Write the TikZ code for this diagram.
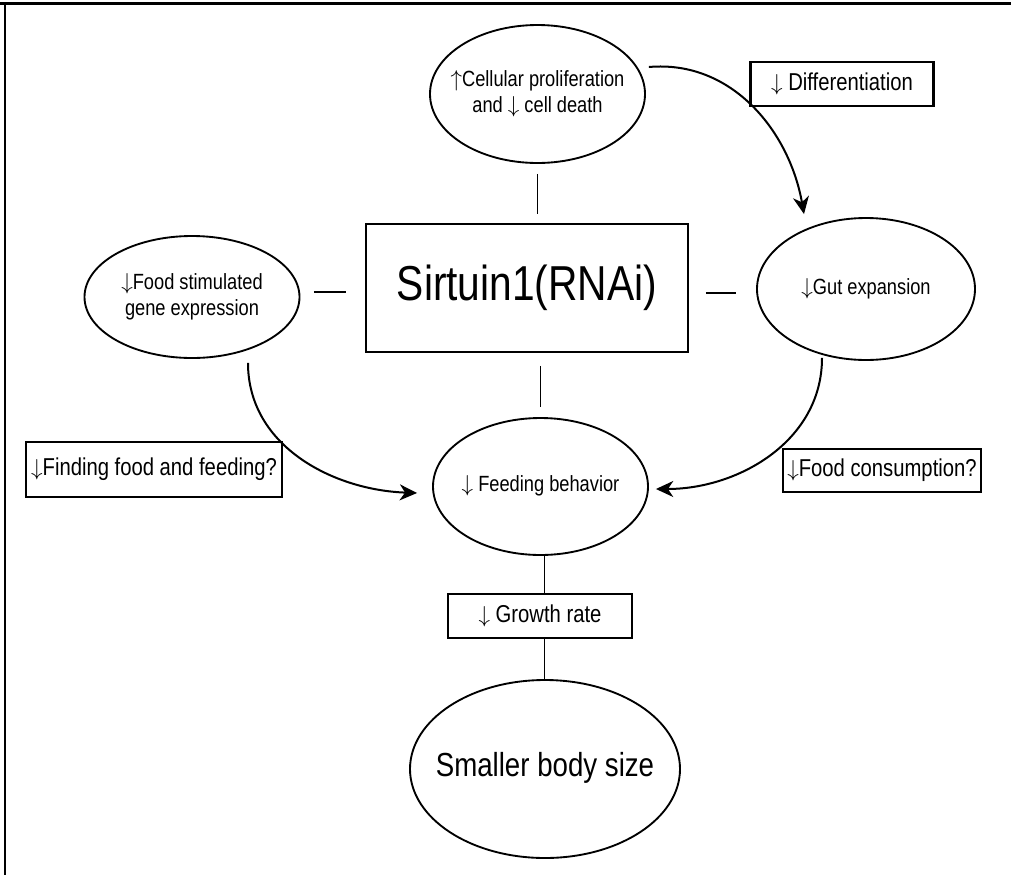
\documentclass[tikz,border=0pt]{standalone}
\usepackage{fontspec}
\setmainfont{Liberation Sans}[FakeStretch=0.83]
\usepackage{tikz}
\usetikzlibrary{arrows.meta}
\usetikzlibrary{shapes.geometric}
\usetikzlibrary{calc}
\tikzstyle{outcome} = [ellipse, draw, line width=1.4pt, text centered, inner sep=0pt, font=\fontsize{16.5}{20}\selectfont]
\tikzstyle{effect} = [rectangle, draw, line width=1.8pt, text centered, inner sep=0pt, font=\fontsize{18.3}{22}\selectfont]
\tikzstyle{link} = [line width=1.4pt]
\tikzstyle{flow} = [line width=1.5pt, -{Stealth[length=13pt, width=12pt, inset=4pt]}]
% text that does not widen the ellipse round it
\newcommand{\inbubble}[1]{\makebox[0pt]{\begin{tabular}{@{}c@{}}#1\end{tabular}}}

\begin{document}
\begin{tikzpicture}[x=0.75pt,y=0.75pt]

		\useasboundingbox (0,0) rectangle (1011,-875);
		% frame
		\draw[line width=2.2pt] (0,-3.5) -- (1011,-3.5);
		\draw[line width=1.5pt] (5,-3.5) -- (5,-875);

		\node [effect, line width=1.4pt, minimum width=241.5pt, minimum height=96pt, font=\fontsize{36.8}{40}\selectfont] (C) at (527,-288) {Sirtuin1(RNAi)};
		\node [outcome, minimum width=161.25pt, minimum height=103.5pt] (A) at (537.5,-94) {\inbubble{$\uparrow$Cellular proliferation\\and $\downarrow$ cell death}};
		\node [effect, minimum width=137.25pt, minimum height=33pt] (B) at (842,-84) {$\downarrow$ Differentiation\hspace{14pt}};
		\node [outcome, minimum width=161.25pt, minimum height=91.5pt] (D) at (192,-297) {\inbubble{$\downarrow$Food stimulated\\gene expression}};
		\node [outcome, minimum width=163.5pt, minimum height=106.5pt] (E) at (866,-289) {\inbubble{$\downarrow$Gut expansion}};
		\node [outcome, minimum width=161.25pt, minimum height=102.75pt] (F) at (540.5,-486.5) {\inbubble{$\downarrow$ Feeding behavior}};
		\node [effect, minimum width=192pt, minimum height=41.25pt] (G) at (154,-469.5) {$\downarrow$Finding food and feeding?};
		\node [effect, minimum width=148.5pt, minimum height=32.25pt] (H) at (882,-470.5) {$\downarrow$Food consumption?};
		\node [effect, minimum width=138pt, minimum height=33pt] (I) at (540,-616) {$\downarrow$ Growth rate};
		\node [outcome, minimum width=202.5pt, minimum height=133.5pt, font=\fontsize{25}{28}\selectfont] (J) at (545,-769) {\inbubble{Smaller body size}};

		% connections
		\draw[link, shorten <=7.5pt, shorten >=6.75pt] (A.south) -- (A.south |- C.north);
		\draw[link, shorten <=9.75pt, shorten >=7.5pt] (F.north |- C.south) -- (F.north);
		\draw[link, shorten <=10pt, shorten >=14pt] ([yshift=3.5pt]D.east) -- ([yshift=3.5pt]D.east -| C.west);
		\draw[link, shorten <=12.75pt, shorten >=15pt] ([yshift=-3pt]E.west -| C.east) -- ([yshift=-3pt]E.west);
		\draw[link] ([xshift=3pt]F.south) -- ([xshift=3pt]F.south |- I.north);
		\draw[link] ([xshift=3pt]F.south |- I.south) -- ([xshift=3pt]F.south |- J.north);

		\draw[flow] ($(A.east)+(3,27)$) to[out=5,in=100] ($(E.north)+(-62,3)$);
		\draw[flow] ($(D.south)+(56,-4)$) to[out=-90,in=178] ($(F.west)+(-15,-6.5)$);
		\draw[flow] ($(E.south)+(-44,3)$) to[out=-90,in=0] ($(F.east)+(7,-2.5)$);

	\end{tikzpicture}
\end{document}
